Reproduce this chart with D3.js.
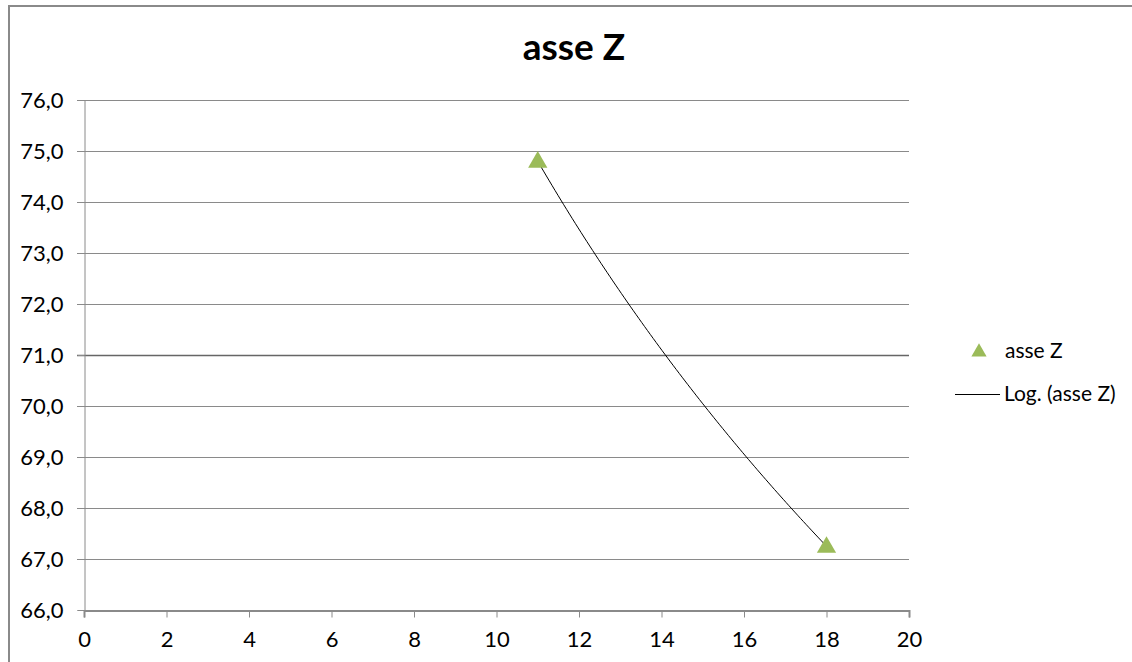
<!DOCTYPE html>
<html>
<head>
<meta charset="utf-8">
<script src="https://cdn.jsdelivr.net/npm/d3@7"></script>
<style>
  html, body { margin: 0; background: #fff; overflow: hidden; }
  svg { display: block; }
  text { font-family: Lato, "Open Sans", sans-serif; fill: #000; }
</style>
</head>
<body>
<svg id="chart" width="1132" height="662"></svg>
<script>
const seriesName = "asse Z";
const trendName = "Log. (asse Z)";
const xValues = [11, 18];
const yValues = [74.8, 67.25];
const xTicks = [0, 2, 4, 6, 8, 10, 12, 14, 16, 18, 20];
const yTicks = [66, 67, 68, 69, 70, 71, 72, 73, 74, 75, 76];

const svg = d3.select("#chart");
const W = 1132, H = 662;

// outer chart border (only top and left visible)
svg.append("line").attr("x1", 8).attr("x2", W).attr("y1", 6).attr("y2", 6)
  .attr("stroke", "#8a8a8a").attr("stroke-width", 2);
svg.append("line").attr("x1", 9).attr("x2", 9).attr("y1", 5).attr("y2", H)
  .attr("stroke", "#8a8a8a").attr("stroke-width", 2);

const x = d3.scaleLinear().domain([0, 20]).range([84, 909]);
const y = d3.scaleLinear().domain([66, 76]).range([610, 100]);

// gridlines
svg.append("g").selectAll("line").data(yTicks.filter(d => d !== 66)).join("line")
  .attr("x1", 77).attr("x2", 909)
  .attr("y1", d => Math.round(y(d)) + 0.5).attr("y2", d => Math.round(y(d)) + 0.5)
  .attr("stroke", d => d === 71 ? "#666" : "#8a8a8a").attr("stroke-width", d => d === 71 ? 1.6 : 1);

// y axis
const fmt = d => d.toFixed(1).replace(".", ",");
const yAxis = svg.append("g").attr("transform", "translate(84.5,0)")
  .call(d3.axisLeft(y).tickValues(yTicks).tickFormat(fmt).tickSize(7).tickPadding(14));
yAxis.select(".domain").attr("stroke", "#8a8a8a");
yAxis.selectAll(".tick line").attr("stroke", "#8a8a8a");
yAxis.selectAll("text").style("font-size", "22px").style("font-family", "Lato, sans-serif").attr("fill", "#000");

// x axis
const xAxis = svg.append("g").attr("transform", "translate(0,610.5)")
  .call(d3.axisBottom(x).tickValues(xTicks).tickFormat(d3.format("d")).tickSize(7).tickPadding(14));
xAxis.select(".domain").attr("stroke", "#8a8a8a").attr("stroke-width", 2);
xAxis.selectAll(".tick line").attr("stroke", "#8a8a8a");
xAxis.selectAll("text").style("font-size", "22px").style("font-family", "Lato, sans-serif").attr("fill", "#000");

// logarithmic trend line y = a + b ln x
const b = (yValues[1] - yValues[0]) / (Math.log(xValues[1]) - Math.log(xValues[0]));
const a = yValues[0] - b * Math.log(xValues[0]);
const trendX = d3.range(0, 101).map(i => xValues[0] + (xValues[1] - xValues[0]) * i / 100);
const line = d3.line().x(d => x(d)).y(d => y(a + b * Math.log(d)));
svg.append("path").datum(trendX).attr("d", line)
  .attr("fill", "none").attr("stroke", "#000").attr("stroke-width", 1);

// markers (triangles)
const tri = d3.symbol().type(d3.symbolTriangle).size(160);
svg.append("g").selectAll("path").data(xValues.map((v, i) => [v, yValues[i]])).join("path")
  .attr("d", tri)
  .attr("transform", d => `translate(${x(d[0])},${y(d[1]) + 1})`)
  .attr("fill", "#9bbb59");

// title
svg.append("text").attr("x", 574).attr("y", 60).attr("text-anchor", "middle")
  .style("font-size", "37px").style("font-weight", "bold").text(seriesName);

// legend
svg.append("path").attr("d", d3.symbol().type(d3.symbolTriangle).size(100))
  .attr("transform", "translate(979,352)").attr("fill", "#9bbb59");
svg.append("text").attr("x", 1005).attr("y", 358).style("font-size", "21px").text(seriesName);
svg.append("line").attr("x1", 955).attr("x2", 1000).attr("y1", 394.5).attr("y2", 394.5)
  .attr("stroke", "#000").attr("stroke-width", 1);
svg.append("text").attr("x", 1004).attr("y", 401).style("font-size", "21px").text(trendName);
</script>
</body>
</html>
